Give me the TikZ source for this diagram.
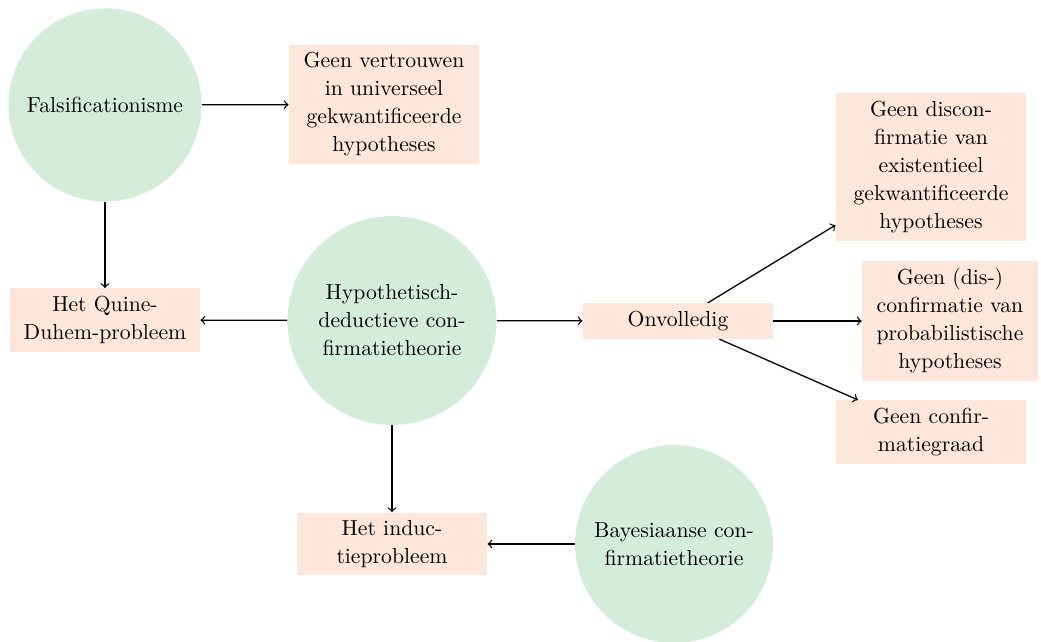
\documentclass[tikz,border=0pt]{standalone}
\usepackage{amsmath}
\usepackage{tikz}
\definecolor{groen}{RGB}{212,237,218}
\definecolor{perzik}{RGB}{253,231,218}
\tikzset{
	idee/.style={circle, fill=groen, align=center, inner sep=2pt},
	gevolg/.style={rectangle, fill=perzik, align=center, minimum width=87.6pt, inner xsep=3pt, inner ysep=3.6pt},
}

\begin{document}
\begin{tikzpicture}[x=0.4608pt, y=-0.4608pt, font=\fontsize{10pt}{12.9pt}\selectfont]
			\useasboundingbox (0, 0) rectangle (1041, 641);
			\node[idee, minimum size=89pt] (fals) at (105, 105) {Falsificationisme};
			\node[idee, minimum size=96.3pt] (hd) at (392, 320.5) {Hypothetisch-\\deductieve con-\\firmatietheorie};
			\node[idee, minimum size=91.2pt] (bay) at (674, 544) {Bayesiaanse con-\\firmatietheorie};
			\node[gevolg] (vertr) at (384, 104.5) {Geen vertrouwen\\in universeel\\gekwantificeerde\\hypotheses};
			\node[gevolg] (qd) at (105, 320) {Het Quine-\\Duhem-probleem};
			\node[gevolg] (onv) at (678, 321) {Onvolledig};
			\node[gevolg] (disc) at (931, 167) {Geen discon-\\firmatie van\\existentieel\\gekwantificeerde\\hypotheses};
			\node[gevolg, minimum width=81pt] (prob) at (950, 321) {Geen (dis-)\\confirmatie van\\probabilistische\\hypotheses};
			\node[gevolg] (graad) at (931, 432) {Geen confir-\\matiegraad};
			\node[gevolg] (ind) at (392, 544) {Het induc-\\tieprobleem};
			\path[semithick, ->] (fals) edge (vertr);
			\path[semithick, ->] (fals) edge (qd);
			\path[semithick, ->] (hd) edge (qd);
			\path[semithick, ->] (hd) edge (onv);
			\path[semithick, ->] (hd) edge (ind);
			\path[semithick, ->] (bay) edge (ind);
			\path[semithick, ->] (onv) edge (disc);
			\path[semithick, ->] (onv) edge (prob);
			\path[semithick, ->] (onv) edge (graad);
		\end{tikzpicture}
\end{document}
